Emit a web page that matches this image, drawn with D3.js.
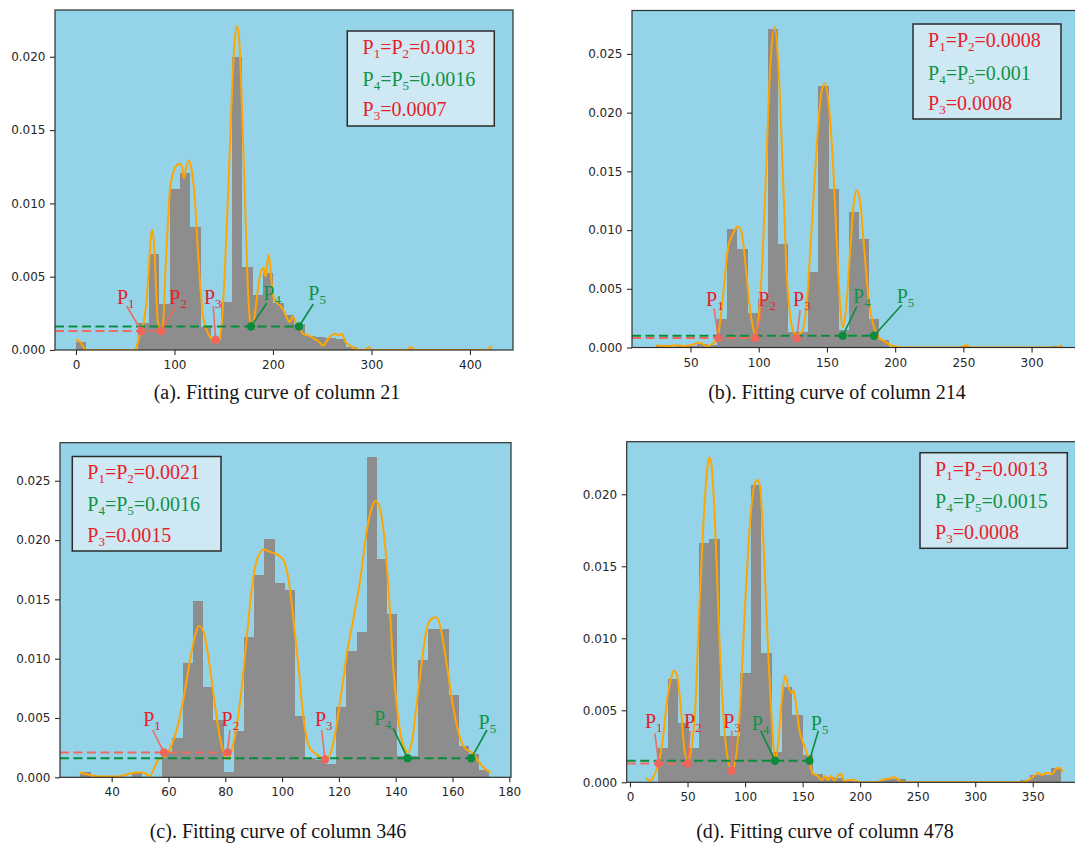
<!DOCTYPE html>
<html>
<head>
<meta charset="utf-8">
<script src="https://cdn.jsdelivr.net/npm/d3@7"></script>
<style>
  html, body { margin: 0; padding: 0; background: #ffffff; }
  svg { display: block; }
</style>
</head>
<body>
<svg id="fig" width="1075" height="847"></svg>
<script>
// ---------------- column 21 ----------------
const rangeA = [0, 422];
const histA = [0.00057, 0, 0, 0, 0, 0, 0.00186, 0.00655, 0.00314, 0.01096,
  0.01205, 0.00837, 0.0016, 0.0007, 0.0033, 0.0200, 0.00568, 0.00375, 0.00527, 0.00318,
  0.0024, 0.0018, 0.00095, 0.0009, 0.0008, 0.00073, 0.0002, 0.0001, 0, 0,
  0, 0, 0.0001, 0, 0, 0, 0, 0, 0, 0.0001];
const curveA = [[0, 0.0007], [3.4, 0.0006], [6.8, 0.0003], [10.2, 0], [60, 0], [62.3, 0.0004],
  [64.3, 0.0009], [66.3, 0.0012], [67.7, 0.0015], [69.7, 0.0023], [71.7, 0.0034], [74.1, 0.0057],
  [75.8, 0.0075], [77.2, 0.0082], [78.9, 0.0075], [80.6, 0.0053], [82.6, 0.0023], [84.6, 0.0014],
  [86.6, 0.0012], [88.7, 0.002], [91, 0.0057], [93.1, 0.0084], [95.4, 0.0109], [98.8, 0.0121],
  [102.2, 0.0126], [105.6, 0.0127], [108, 0.0124], [109.6, 0.0117], [111.7, 0.0124], [114.7, 0.0129],
  [117.4, 0.0123], [120.8, 0.0102], [123.2, 0.0075], [125.9, 0.0046], [128.6, 0.0025], [132, 0.0015],
  [136, 0.0009], [141.8, 0.0005], [145.5, 0.0007], [148.2, 0.002], [151.3, 0.0057], [154.6, 0.0109],
  [158.1, 0.0171], [160.7, 0.0207], [163.5, 0.0221], [165.8, 0.0211], [168.5, 0.0166], [171.6, 0.0102],
  [174.3, 0.0046], [176.6, 0.002], [178.3, 0.0015], [180.7, 0.002], [183.4, 0.0034], [186.1, 0.0048],
  [188.8, 0.0055], [190.5, 0.0056], [192.6, 0.005], [194.2, 0.0059], [195.6, 0.0065], [197.3, 0.0057],
  [199, 0.0043], [201, 0.0035], [204.4, 0.0032], [207.8, 0.003], [212.2, 0.0025], [215.6, 0.002],
  [217.3, 0.0019], [220, 0.0023], [222.4, 0.002], [224.8, 0.0016], [226.7, 0.0015], [230.8, 0.0011],
  [235.9, 0.001], [241, 0.0008], [246, 0.0006], [251.1, 0.0003], [254.5, 0.0006], [257.9, 0.0009],
  [263, 0.0011], [266.4, 0.001], [269.8, 0.0011], [273.2, 0.0006], [278.2, 0.0003], [283.3, 0.0001],
  [288.4, 0], [293.5, 0], [296.9, 0.0002], [300.3, 0], [335.9, 0], [339.9, 0.0002], [344.3, 0],
  [417, 0], [422, 0.0003]];
const cutsA = [66.3, 86.6, 141.8, 177.7, 226.4];      // P1 … P5
const levelsA = [0.0013, 0.0016, 0.0007];              // P1=P2, P4=P5, P3
const xTicksA = [0, 100, 200, 300, 400];
const yTicksA = [0, 0.005, 0.010, 0.015, 0.020];
const captionA = "(a). Fitting curve of column 21";

// ---------------- column 214 ----------------
const rangeB = [25, 322];
const histB = [0.0002, 0, 0.0001, 0.0001, 0.0003, 0.0002, 0.00242, 0.01005, 0.00835, 0.0029,
  0.0041, 0.02714, 0.0088, 0.00134, 0.00134, 0.00645, 0.02224, 0.01354, 0.0015, 0.0115,
  0.0092, 0.0024, 0.00064, 0, 0, 0, 0, 0, 0, 0,
  0.0001, 0, 0, 0, 0, 0, 0, 0, 0, 0.0001];
const curveB = [[25, 0.0002], [32, 0.0001], [40, 0.0002], [45, 0.0001], [50, 0.0002], [57, 0.0004],
  [62, 0.0001], [66, 0.0003], [68, 0.0005], [70.4, 0.0011], [72, 0.0025], [74, 0.0046],
  [77.7, 0.0086], [81.6, 0.0098], [84.3, 0.0103], [87.5, 0.0098], [90, 0.0074], [93.1, 0.0038],
  [95.6, 0.0018], [97.3, 0.0011], [99.7, 0.0023], [102.2, 0.0063], [105.4, 0.0151], [108.3, 0.0236],
  [111.7, 0.0273], [114.6, 0.0236], [117.6, 0.0151], [120.5, 0.0063], [123.5, 0.0023], [125.5, 0.0013],
  [127.9, 0.0011], [131.6, 0.0013], [135.2, 0.0038], [138.9, 0.0103], [143, 0.0179], [146.2, 0.0219],
  [148.6, 0.0225], [151.5, 0.0205], [154.7, 0.0151], [157.6, 0.008], [160.1, 0.0029], [161.6, 0.0017],
  [164, 0.0033], [166.9, 0.008], [169.9, 0.0125], [171.8, 0.0134], [174.3, 0.0125], [177.2, 0.0086],
  [180.4, 0.0043], [184.5, 0.0017], [187.7, 0.0009], [192.6, 0.0005], [196.3, 0.0002], [200, 0.0001],
  [205, 0], [248, 0], [252, 0.0002], [256, 0], [318, 0], [322, 0.0002]];
const cutsB = [70.4, 97.3, 127.9, 161.6, 184.5];
const levelsB = [0.0008, 0.001, 0.0008];
const xTicksB = [50, 100, 150, 200, 250, 300];
const yTicksB = [0, 0.005, 0.010, 0.015, 0.020, 0.025];
const captionB = "(b). Fitting curve of column 214";

// ---------------- column 346 ----------------
const rangeC = [29, 173];
const histC = [0.00042, 0, 0, 0, 0, 0.0004, 0, 0, 0.00216, 0.00329,
  0.00966, 0.01484, 0.00764, 0.00483, 0.00047, 0.0039, 0.0118, 0.01708, 0.02012, 0.01638,
  0.01577, 0.0052, 0.0016, 0.0015, 0.0011, 0.0059, 0.01067, 0.01225, 0.02698, 0.01838,
  0.01377, 0.0018, 0.0018, 0.0099, 0.0125, 0.0125, 0.0069, 0.0026, 0.002, 0.0006];
const curveC = [[28.8, 0.0004], [32.3, 0.0002], [35.9, 0.00006], [41.7, 0.00006], [47, 0.00034],
  [49.4, 0.00042], [51.7, 0.00034], [53.5, 0.0001], [54.9, 0.00076], [56.5, 0.0015], [58.4, 0.0017],
  [60.5, 0.0024], [62.9, 0.004], [65.2, 0.0065], [67.6, 0.0099], [69.3, 0.0119], [70.7, 0.01276],
  [72.3, 0.0123], [74, 0.0102], [75.8, 0.0071], [77.6, 0.004], [79.1, 0.0023], [80.9, 0.0015],
  [82.3, 0.0023], [84, 0.0043], [85.8, 0.0076], [87.6, 0.0119], [89.3, 0.0158], [91.1, 0.0183],
  [93.5, 0.0192], [95.8, 0.019], [98.2, 0.0188], [100.5, 0.0183], [102.3, 0.0166], [104, 0.0133],
  [105.8, 0.0093], [107.5, 0.0051], [109.3, 0.0027], [111.7, 0.002], [113.4, 0.0017], [115.2, 0.0015],
  [117, 0.002], [118.7, 0.0037], [120.5, 0.0065], [122.9, 0.0105], [125.2, 0.0135], [127.5, 0.0166],
  [129.9, 0.0209], [131.7, 0.0228], [132.8, 0.0233], [134, 0.023], [135.8, 0.0206], [137.5, 0.0158],
  [139.3, 0.0088], [141.1, 0.0046], [142.8, 0.0026], [144.4, 0.0021], [145.8, 0.0031], [147.3, 0.006],
  [149, 0.0093], [150.8, 0.0124], [152.8, 0.0134], [154.4, 0.0135], [156, 0.0124], [158.1, 0.0093],
  [160.2, 0.006], [162.2, 0.0037], [164.6, 0.0024], [166.7, 0.0021], [168.7, 0.0015], [171, 0.0008],
  [173.4, 0.0004]];
const cutsC = [58.4, 80.8, 115.1, 144.2, 166.6];
const levelsC = [0.0021, 0.0016, 0.0015];
const xTicksC = [40, 60, 80, 100, 120, 140, 160, 180];
const yTicksC = [0, 0.005, 0.010, 0.015, 0.020, 0.025];
const captionC = "(c). Fitting curve of column 346";

// ---------------- column 478 ----------------
const rangeD = [15, 375];
const histD = [0, 0.00236, 0.0072, 0.0041, 0.00236, 0.01665, 0.01692, 0.0032, 0.0032, 0.00757,
  0.02065, 0.00896, 0.0021, 0.0066, 0.00468, 0.0019, 0.0006, 0.00035, 0.0003, 0.0001,
  0, 0, 0.0001, 0.0002, 0.0002, 0, 0, 0, 0, 0,
  0, 0, 0, 0, 0, 0, 0.00016, 0.0005, 0.0005, 0.00097];
const curveD = [[13.9, 0.00028], [18, 0.0001], [21.7, 0.0006], [25, 0.00137], [28.4, 0.0029],
  [31.9, 0.0055], [35.4, 0.0071], [38.2, 0.00776], [41.2, 0.0073], [44, 0.0053], [47, 0.0025],
  [50.1, 0.00137], [53.6, 0.0025], [56.5, 0.0048], [60.3, 0.0122], [63.8, 0.018], [67.3, 0.0219],
  [69, 0.02257], [71, 0.0219], [74.5, 0.0168], [77.7, 0.0099], [81.2, 0.0046], [84.6, 0.0018],
  [88.4, 0.00086], [91.9, 0.0016], [95.7, 0.0053], [100, 0.0122], [104.3, 0.018], [108.7, 0.0208],
  [110.7, 0.021], [113, 0.0205], [116.5, 0.0157], [120.3, 0.0087], [123.8, 0.0036], [126.1, 0.00144],
  [129, 0.0029], [131.9, 0.0057], [134.8, 0.0074], [137.7, 0.0066], [140.6, 0.0062], [142, 0.0064],
  [144.4, 0.0053], [147.3, 0.0036], [150.7, 0.0027], [154.2, 0.0019], [156, 0.00144], [158.8, 0.0006],
  [162.3, 0.0005], [166.7, 0.00016], [169.6, 0.00044], [171.9, 0.00016], [174.5, 0.00044],
  [177.4, 0.0001], [181.2, 0.0005], [183.5, 0.0006], [186.1, 0.0001], [191.3, 0.00016], [194.2, 0.0002],
  [198.6, 0], [214.5, 0], [218.8, 0.00016], [224.6, 0.00025], [230.4, 0.00035], [234.8, 0.00005],
  [240.6, 0], [339, 0], [344.9, 0.0001], [350.7, 0.0004], [355, 0.00067], [357.9, 0.0005],
  [362.3, 0.00067], [366.7, 0.00056], [371, 0.00097], [373.9, 0.001], [376, 0.0007]];
const cutsD = [24.9, 50.1, 88.4, 126, 155.9];
const levelsD = [0.0013, 0.0015, 0.0008];
const xTicksD = [0, 50, 100, 150, 200, 250, 300, 350];
const yTicksD = [0, 0.005, 0.010, 0.015, 0.020];
const captionD = "(d). Fitting curve of column 478";

// ---------------- layout ----------------
// frame: plot rectangle in px; xDom / yMax: visible data extent
// legend: box and text baselines; marks: [labelDx, labelRise, leaderDx, leaderRise] per point
const panels = [
  { hist: histA, range: rangeA, curve: curveA, cuts: cutsA, levels: levelsA,
    xTicks: xTicksA, yTicks: yTicksA, caption: captionA,
    frame: { l: 55, t: 10, r: 513, b: 350 }, xDom: [-21.3, 443.7], yMax: 0.02319,
    legend: { x: 347.3, y: 31, w: 147, h: 95, tx: 362.5, ty: [53.5, 86, 116] },
    cap: { x: 277, y: 399 },
    marks: [[-24.3, 46.5, -14.6, 44], [8, 46.5, 14.7, 44], [-11.7, 46, -2.4, 44], [12.3, 50, 15.7, 46.7], [9.3, 50, 14.3, 46]] },
  { hist: histB, range: rangeB, curve: curveB, cuts: cutsB, levels: levelsB,
    xTicks: xTicksB, yTicks: yTicksB, caption: captionB,
    frame: { l: 632, t: 10.5, r: 1086, b: 347.5 }, xDom: [7.1, 339.9], yMax: 0.0287,
    legend: { x: 913, y: 24, w: 148, h: 95, tx: 928, ty: [47, 80, 110] },
    cap: { x: 837, y: 399 },
    marks: [[-12.3, 41.5, -4.3, 39], [3.3, 41.5, 7.7, 39], [-3.7, 41.5, 3.3, 37.5], [10.3, 44.5, 14, 41], [22.7, 44.5, 27.7, 42.5]] },
  { hist: histC, range: rangeC, curve: curveC, cuts: cutsC, levels: levelsC,
    xTicks: xTicksC, yTicks: yTicksC, caption: captionC,
    frame: { l: 60, t: 442.7, r: 511, b: 777.3 }, xDom: [21.8, 180.6], yMax: 0.02821,
    legend: { x: 72.3, y: 456.5, w: 148.7, h: 94.5, tx: 87.3, ty: [479, 510.7, 541.7] },
    cap: { x: 278, y: 838 },
    marks: [[-20.7, 51.3, -11.3, 47.3], [-6, 51.3, 2.3, 47.3], [-10, 51.3, -3.3, 47.3], [-33.7, 52.3, -14.4, 49], [7.3, 48.6, 15.7, 47.3]] },
  { hist: histD, range: rangeD, curve: curveD, cuts: cutsD, levels: levelsD,
    xTicks: xTicksD, yTicks: yTicksD, caption: captionD,
    frame: { l: 626.7, t: 441.7, r: 1086, b: 782.3 }, xDom: [-2.87, 396.3], yMax: 0.02365,
    legend: { x: 920, y: 452.7, w: 147.3, h: 95.6, tx: 935, ty: [476, 508.3, 539.3] },
    cap: { x: 825, y: 838 },
    marks: [[-13.7, 54, -3.7, 49], [-3.7, 54, 2.3, 51.6], [-8.4, 54, 0, 51.6], [-23.3, 52.3, -14.3, 51.6], [1.4, 52.3, 9, 51.6]] }
];

const COLORS = {
  plotBg: "#95d4e8", bar: "#8d8d8d", curve: "#ffa500", frame: "#2e2e2e",
  legendBg: "#cfe9f4", legendEdge: "#2b2b2b",
  redText: "#e8202a", greenText: "#0f9347",
  redMark: "#f2655a", greenMark: "#0b8c3c",
  redLine: "#f06b5f", greenLine: "#0b8c3c"
};
const SERIF = "'Liberation Serif', 'Times New Roman', serif";
const SANS = "'DejaVu Sans', sans-serif";

const svg = d3.select("#fig");

// text with subscript parts: segs = [[string, isSub], ...]
function richText(g, x, y, segs, color, size) {
  const t = g.append("text")
    .attr("x", x).attr("y", y)
    .attr("fill", color)
    .attr("font-family", SERIF)
    .attr("font-size", size);
  let down = false;
  const shift = size * 0.2;
  segs.forEach(([s, sub]) => {
    const ts = t.append("tspan").text(s);
    if (sub) {
      ts.attr("font-size", size * 0.65);
      if (!down) { ts.attr("dy", shift); down = true; }
    } else if (down) {
      ts.attr("dy", -shift); down = false;
    }
  });
  return t;
}

panels.forEach((p, idx) => {
  const f = p.frame;
  const x = d3.scaleLinear().domain(p.xDom).range([f.l, f.r]);
  const y = d3.scaleLinear().domain([0, p.yMax]).range([f.b, f.t]);
  const g = svg.append("g");

  const clipId = "clip" + idx;
  svg.append("clipPath").attr("id", clipId)
    .append("rect").attr("x", f.l).attr("y", f.t).attr("width", f.r - f.l).attr("height", f.b - f.t);

  // background
  g.append("rect").attr("x", f.l).attr("y", f.t)
    .attr("width", f.r - f.l).attr("height", f.b - f.t)
    .attr("fill", COLORS.plotBg);

  const plot = g.append("g").attr("clip-path", `url(#${clipId})`);

  // histogram bins (equal width over the range)
  const n = p.hist.length;
  const bw = (p.range[1] - p.range[0]) / n;
  const bins = p.hist.map((v, i) => ({ x0: p.range[0] + i * bw, x1: p.range[0] + (i + 1) * bw, v }));
  plot.selectAll("rect.bar").data(bins.filter(d => d.v > 0)).enter()
    .append("rect").attr("class", "bar")
    .attr("x", d => x(d.x0))
    .attr("width", d => x(d.x1) - x(d.x0))
    .attr("y", d => y(d.v))
    .attr("height", d => y(0) - y(d.v))
    .attr("fill", COLORS.bar)
    .attr("shape-rendering", "crispEdges");

  // fitted curve
  const line = d3.line().x(d => x(d[0])).y(d => y(d[1])).curve(d3.curveMonotoneX);
  plot.append("path").datum(p.curve)
    .attr("d", line)
    .attr("fill", "none")
    .attr("stroke", COLORS.curve)
    .attr("stroke-width", 2)
    .attr("stroke-linejoin", "round");

  // threshold lines
  const yLev = [p.levels[0], p.levels[0], p.levels[2], p.levels[1], p.levels[1]];
  plot.append("line")
    .attr("x1", f.l).attr("x2", x(p.cuts[1]))
    .attr("y1", y(p.levels[0])).attr("y2", y(p.levels[0]))
    .attr("stroke", COLORS.redLine).attr("stroke-width", 2)
    .attr("stroke-dasharray", "9,4.5");
  plot.append("line")
    .attr("x1", f.l).attr("x2", x(p.cuts[4]))
    .attr("y1", y(p.levels[1])).attr("y2", y(p.levels[1]))
    .attr("stroke", COLORS.greenLine).attr("stroke-width", 2)
    .attr("stroke-dasharray", "9,4.5");

  // leaders, markers and point labels
  p.cuts.forEach((cx, i) => {
    const isGreen = i >= 3;
    const mx = x(cx), my = y(yLev[i]);
    const m = p.marks[i];
    g.append("line")
      .attr("x1", mx).attr("y1", my)
      .attr("x2", mx + m[2]).attr("y2", f.b - m[3])
      .attr("stroke", isGreen ? COLORS.greenLine : COLORS.redLine)
      .attr("stroke-width", 1.6);
    g.append("circle")
      .attr("cx", mx).attr("cy", my).attr("r", 4.2)
      .attr("fill", isGreen ? COLORS.greenMark : COLORS.redMark);
    richText(g, mx + m[0], f.b - m[1], [["P", false], [String(i + 1), true]],
      isGreen ? COLORS.greenText : COLORS.redText, 20);
  });

  // frame
  g.append("rect").attr("x", f.l).attr("y", f.t)
    .attr("width", f.r - f.l).attr("height", f.b - f.t)
    .attr("fill", "none").attr("stroke", COLORS.frame).attr("stroke-width", 1.2);

  // axes
  const ax = g.append("g").attr("transform", `translate(0,${f.b})`)
    .call(d3.axisBottom(x).tickValues(p.xTicks).tickFormat(d3.format("d")).tickSize(5).tickPadding(5.5));
  const ay = g.append("g").attr("transform", `translate(${f.l},0)`)
    .call(d3.axisLeft(y).tickValues(p.yTicks).tickFormat(d3.format(".3f")).tickSize(5).tickPadding(4.5));
  [ax, ay].forEach(a => {
    a.select(".domain").remove();
    a.selectAll("line").attr("stroke", COLORS.frame).attr("stroke-width", 1.1);
    a.selectAll("text").attr("font-family", SANS).attr("font-size", 12).attr("fill", "#262626");
  });

  // value box
  const L = p.legend;
  g.append("rect").attr("x", L.x).attr("y", L.y).attr("width", L.w).attr("height", L.h)
    .attr("fill", COLORS.legendBg).attr("stroke", COLORS.legendEdge).attr("stroke-width", 1.5);
  richText(g, L.tx, L.ty[0], [["P", false], ["1", true], ["=P", false], ["2", true], ["=" + String(p.levels[0]), false]], COLORS.redText, 20);
  richText(g, L.tx, L.ty[1], [["P", false], ["4", true], ["=P", false], ["5", true], ["=" + String(p.levels[1]), false]], COLORS.greenText, 20);
  richText(g, L.tx, L.ty[2], [["P", false], ["3", true], ["=" + String(p.levels[2]), false]], COLORS.redText, 20);

  // caption
  svg.append("text")
    .attr("x", p.cap.x).attr("y", p.cap.y)
    .attr("text-anchor", "middle")
    .attr("font-family", SERIF).attr("font-size", 20)
    .attr("fill", "#141414")
    .text(p.caption);
});
</script>
</body>
</html>
